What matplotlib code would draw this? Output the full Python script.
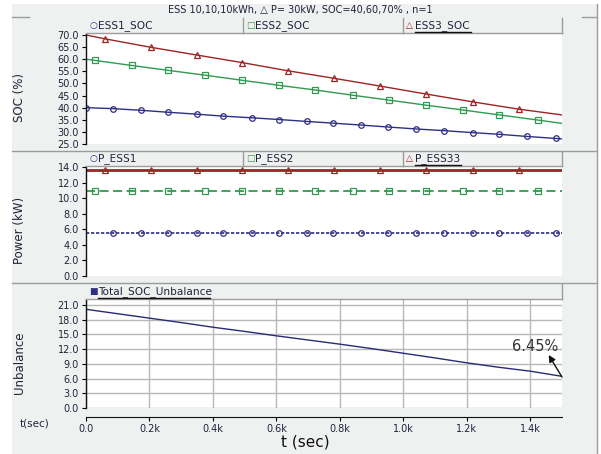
import matplotlib
matplotlib.use('Agg')
import matplotlib.pyplot as plt
from matplotlib.patches import Rectangle
from matplotlib.lines import Line2D

# ---- data ----
t_soc1 = [0, 85, 174, 259, 350, 432, 524, 609, 697, 779, 868, 953, 1041, 1129, 1218, 1303, 1391, 1480, 1500]
soc1 = [40.0, 39.6, 38.9, 38.1, 37.3, 36.5, 35.8, 35.1, 34.3, 33.6, 32.8, 32.0, 31.2, 30.5, 29.7, 29.0, 28.1, 27.3, 27.1]

t_soc2 = [0, 28, 145, 259, 375, 492, 609, 722, 842, 956, 1073, 1189, 1303, 1423, 1500]
soc2 = [60.0, 59.5, 57.4, 55.4, 53.4, 51.3, 49.2, 47.3, 45.1, 43.1, 41.0, 39.0, 37.0, 34.9, 33.5]

t_soc3 = [0, 60, 205, 350, 492, 637, 782, 927, 1073, 1218, 1363, 1500]
soc3 = [70.0, 68.4, 64.9, 61.7, 58.6, 55.2, 52.1, 48.9, 45.6, 42.4, 39.4, 37.0]

p_ess1 = [5.5, 5.5, 5.5, 5.5, 5.5, 5.5, 5.5, 5.5, 5.5, 5.5, 5.5, 5.5, 5.5, 5.5, 5.5, 5.5, 5.5, 5.5, 5.5]
p_ess2 = [10.9, 10.9, 10.9, 10.9, 10.9, 10.9, 10.9, 10.9, 10.9, 10.9, 10.9, 10.9, 10.9, 10.9, 10.9]
p_ess33 = [13.6, 13.6, 13.6, 13.6, 13.6, 13.6, 13.6, 13.6, 13.6, 13.6, 13.6, 13.6]

t_unb = [0, 100, 200, 300, 400, 500, 600, 700, 800, 900, 1000, 1100, 1200, 1300, 1400, 1500]
unbalance = [20.1, 19.2, 18.3, 17.4, 16.45, 15.6, 14.7, 13.85, 13.0, 12.1, 11.15, 10.2, 9.2, 8.3, 7.5, 6.45]

x_ticks = [0, 200, 400, 600, 800, 1000, 1200, 1400]
x_labels = ['0.0', '0.2k', '0.4k', '0.6k', '0.8k', '1.0k', '1.2k', '1.4k']

W, H = 601, 454
BLUE = '#2e2e86'
GREEN = '#2f9a50'
RED = '#9e2424'
BG = '#eff0f0'
EDGE = '#9c9c9c'
TXT = '#22223a'


def rect(x0, y0, x1, y1):
    return [x0 / W, 1 - y1 / H, (x1 - x0) / W, (y1 - y0) / H]


def fx(x):
    return x / W


def fy(y):
    return 1 - y / H


def hline(fig, x0, x1, y, color=EDGE, lw=1.0):
    fig.add_artist(Line2D([fx(x0), fx(x1)], [fy(y), fy(y)], color=color, lw=lw,
                          transform=fig.transFigure))


def vline(fig, x, y0, y1, color=EDGE, lw=1.0):
    fig.add_artist(Line2D([fx(x), fx(x)], [fy(y0), fy(y1)], color=color, lw=lw,
                          transform=fig.transFigure))


def header(fig, y0, y1, cells):
    # cells: (x0, x1, symbol, color, label, underline length)
    for x0, x1, sym, col, label, under in cells:
        fig.add_artist(Rectangle((fx(x0), fy(y1)), fx(x1 - x0), (y1 - y0) / H,
                                 facecolor=BG, edgecolor='none', transform=fig.transFigure))
        hline(fig, x0, x1, y1)
        vline(fig, x1, y0, y1)
        yc = (y0 + y1) / 2
        fig.text(fx(x0 + 3), fy(yc), sym, color=col, fontsize=6.5, va='center', ha='left')
        fig.text(fx(x0 + 12), fy(yc), label, color=TXT, fontsize=7.6, va='center', ha='left')
        if under:
            hline(fig, x0 + 12, x0 + 12 + under, y1 - 1, color='#111111', lw=1.0)


def style_axis(ax, yticks):
    ax.set_xlim(0, 1500)
    for s in ['top', 'right', 'bottom']:
        ax.spines[s].set_visible(False)
    ax.spines['left'].set_color('#111111')
    ax.spines['left'].set_linewidth(1.0)
    ax.set_yticks(yticks)
    ax.set_yticklabels(['%.1f' % v for v in yticks])
    ax.tick_params(axis='y', length=3, width=0.8, labelsize=7, labelcolor=TXT, pad=2)
    ax.tick_params(axis='x', bottom=False, labelbottom=False)
    ax.set_facecolor('white')


fig = plt.figure(figsize=(W / 100, H / 100), dpi=100, facecolor='white')
fig.add_artist(Rectangle((fx(12), 0), fx(597 - 12), fy(4), facecolor=BG, edgecolor='none',
                         transform=fig.transFigure, zorder=-10))

# ---- panel 1: SOC ----
ax1 = fig.add_axes(rect(86, 34, 562, 144))
ax1.plot(t_soc1, soc1, color=BLUE, lw=1.0, marker='o', ms=4, mfc='none', mew=0.9, markevery=slice(0, -1))
ax1.plot(t_soc2, soc2, color=GREEN, lw=1.0, marker='s', ms=4, mfc='none', mew=0.9, markevery=slice(1, -1))
ax1.plot(t_soc3, soc3, color=RED, lw=1.0, marker='^', ms=4.5, mfc='none', mew=0.9, markevery=slice(1, -1))
ax1.set_ylim(25, 70.4)
style_axis(ax1, [25, 30, 35, 40, 45, 50, 55, 60, 65, 70])

# ---- panel 2: Power ----
ax2 = fig.add_axes(rect(86, 166, 562, 276))
ax2.plot(t_soc1, p_ess1, color=BLUE, lw=1.2, ls=(0, (2, 1)), marker='o', ms=4, mfc='none', mew=0.9,
         markevery=slice(1, -1))
ax2.plot(t_soc2, p_ess2, color=GREEN, lw=1.3, ls=(0, (5, 2.5)), marker='s', ms=4, mfc='none', mew=0.9,
         markevery=slice(1, -1))
ax2.plot(t_soc3, p_ess33, color=RED, lw=2.0, marker='^', ms=4.5, mfc='none', mew=0.9,
         markevery=slice(1, -1))
ax2.set_ylim(0, 14.13)
style_axis(ax2, [0, 2, 4, 6, 8, 10, 12, 14])

# ---- panel 3: Unbalance ----
ax3 = fig.add_axes(rect(86, 299, 562, 408))
ax3.plot(t_unb, unbalance, color='#2a2a78', lw=1.0)
ax3.set_ylim(0, 22.2)
style_axis(ax3, [0, 3, 6, 9, 12, 15, 18, 21])
ax3.spines['bottom'].set_visible(True)
ax3.spines['bottom'].set_position(('outward', 6.5))
ax3.spines['bottom'].set_color('#111111')
ax3.set_xticks(x_ticks)
ax3.set_xticklabels(x_labels)
ax3.tick_params(axis='x', bottom=True, labelbottom=True, length=3, width=0.8,
                labelsize=7, labelcolor=TXT, pad=2)
ax3.grid(True, color='#b8b8b8', lw=1.0)
ax3.set_axisbelow(True)
ax3.annotate('', xy=(1458, 10.8), xytext=(1500, 6.3),
             arrowprops=dict(arrowstyle='-|>', color='#111111', lw=1.0, mutation_scale=10,
                             shrinkA=0, shrinkB=0))
ax3.text(1416, 12.6, '6.45%', fontsize=10.5, color='#333333', ha='center', va='center')

# ---- frame lines ----
hline(fig, 12, 29, 17)
hline(fig, 582, 597, 17)
hline(fig, 12, 597, 151)
hline(fig, 12, 597, 283)
vline(fig, 597, 4, 454)

# ---- headers ----
header(fig, 18, 33, [(86, 243, '\u25cb', BLUE, 'ESS1_SOC', 0),
                     (243, 403, '\u25a1', GREEN, 'ESS2_SOC', 0),
                     (403, 562, '\u25b3', RED, 'ESS3_SOC', 56)])
header(fig, 152, 166, [(86, 243, '\u25cb', BLUE, 'P_ESS1', 0),
                       (243, 403, '\u25a1', GREEN, 'P_ESS2', 0),
                       (403, 562, '\u25b3', RED, 'P_ESS33', 46)])
header(fig, 284, 299, [(86, 562, '\u25a0', BLUE, 'Total_SOC_Unbalance', 112)])

fig.text(fx(300), fy(10), 'ESS 10,10,10kWh, \u25b3 P= 30kW, SOC=40,60,70% , n=1',
         fontsize=7, color=TXT, ha='center', va='center')

# ---- axis labels ----
fig.text(fx(20), fy(97), 'SOC (%)', rotation=90, fontsize=8.5, color=TXT, ha='center', va='center')
fig.text(fx(20), fy(230), 'Power (kW)', rotation=90, fontsize=8.5, color=TXT, ha='center', va='center')
fig.text(fx(20), fy(363), 'Unbalance', rotation=90, fontsize=8.5, color=TXT, ha='center', va='center')
fig.text(fx(35), fy(424), 't(sec)', fontsize=7.5, color=TXT, ha='center', va='center')
fig.text(fx(305), fy(442), 't (sec)', fontsize=11, color='#111111', ha='center', va='center')

fig.savefig('out.png', dpi=100, facecolor='white')
